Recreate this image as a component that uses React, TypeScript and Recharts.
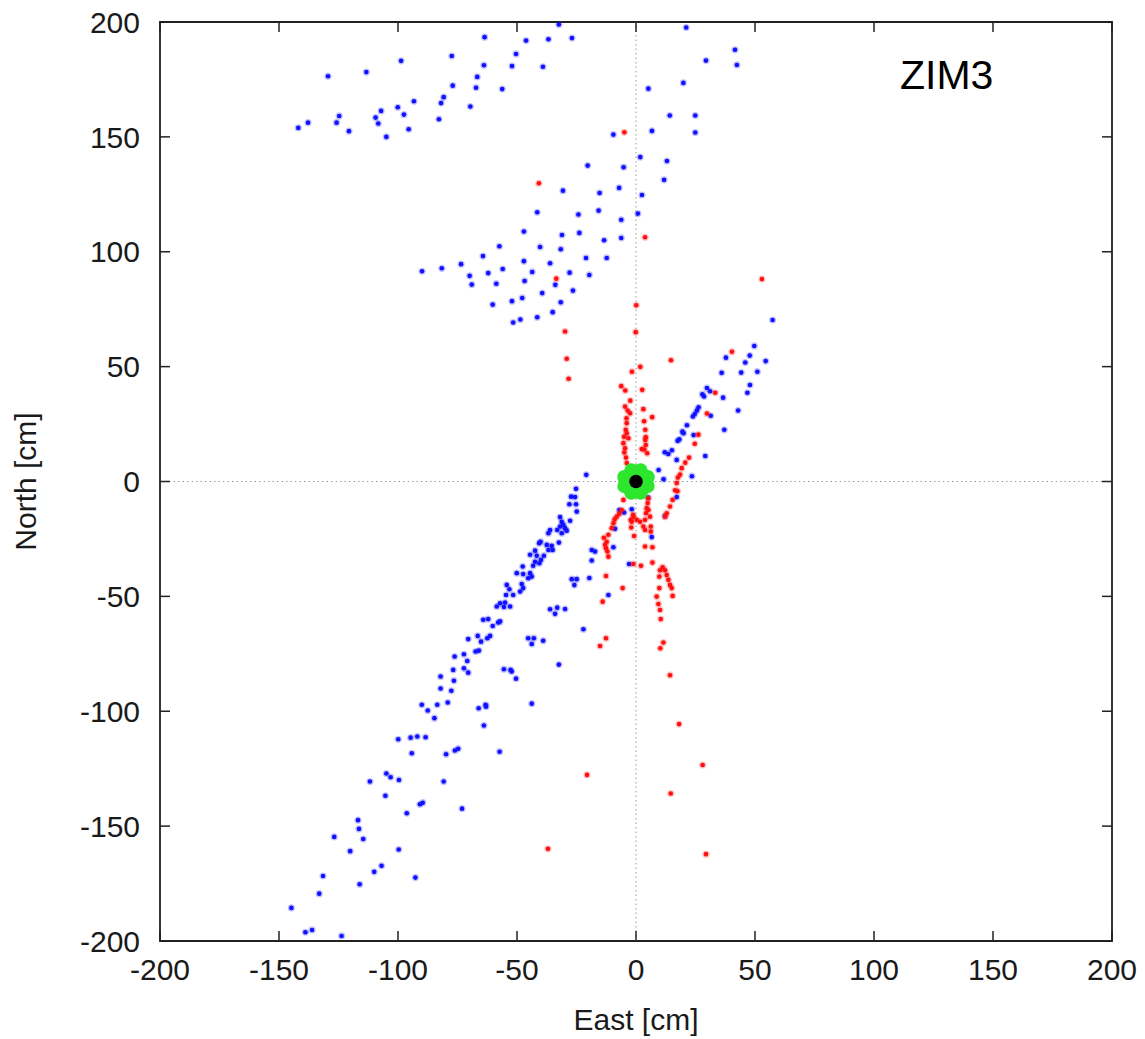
import React from 'react';
import { ScatterChart, Scatter, XAxis, YAxis, ReferenceLine, ReferenceArea } from 'recharts';

const xTicks = [-200, -150, -100, -50, 0, 50, 100, 150, 200];
const yTicks = [-200, -150, -100, -50, 0, 50, 100, 150, 200];

const bluePoints: [number, number][] = [
  [-32.4,198.9],[21.1,197.6],[-63.6,193.4],[-46.2,191.9],[-36.8,192.5],[-26.9,193.0],[29.4,183.2],[-77.4,185.2],[-50.4,186.1],[-98.7,183.1],[-129.4,176.4],[-113.3,178.2],[-63.9,181.2],[-52.1,180.8],[-39.1,180.5],[-66.7,176.1],[-77.0,172.3],[-67.2,171.4],[-56.2,170.8],[5.2,171.0],[19.9,173.5],[-80.8,167.3],[-81.9,164.7],[-93.3,165.5],[-69.6,163.2],[-100.1,162.9],[-107.1,161.3],[-124.7,159.1],[-97.5,159.7],[-109.4,158.4],[14.2,159.3],[24.9,159.3],[-137.8,156.2],[-125.8,156.2],[-108.3,155.8],[-141.9,153.9],[-120.6,152.5],[-95.5,153.3],[-82.8,157.7],[-104.9,150.0],[-9.5,151.0],[6.7,152.6],[24.9,151.9],[41.6,187.9],[42.4,181.3],
  [1.8,141.2],[13.0,139.5],[-20.3,137.5],[-5.2,136.8],[11.8,131.3],[-30.7,126.6],[-15.3,125.6],[-7.1,127.8],[2.5,124.7],[-41.5,117.2],[-24.2,116.2],[-15.7,117.9],[0.8,116.6],[-6.2,113.9],[-47.1,108.8],[-31.1,107.3],[-23.8,108.2],[-6.2,106.0],[-13.4,105.0],[-57.4,102.4],[-40.3,102.1],[-31.6,101.1],[-64.3,98.1],[-21.0,97.3],[-12.3,97.3],[-73.5,94.6],[-47.1,95.9],[-36.1,95.0],[-89.9,91.5],[-81.6,92.8],[-69.9,89.5],[-62.1,90.7],[-56.0,92.5],[-43.6,91.2],[-27.9,90.9],[-19.6,89.9],[-69.0,85.7],[-58.7,86.1],[-46.8,87.3],[-33.9,85.6],[-39.4,82.0],[-26.5,83.1],[-60.2,77.0],[-52.1,78.5],[-47.8,79.9],[-31.6,78.0],[-51.6,69.2],[-48.6,70.5],[-41.5,71.5],[-35.0,73.7],
  [57.4,70.3],[49.7,59.0],[37.8,53.9],[47.8,54.8],[45.9,51.8],[54.5,52.4],[36.0,47.3],[44.2,47.4],[51.0,47.8],[47.9,42.0],[46.8,38.6],[29.8,40.7],[31.1,39.3],[27.9,38.0],[28.6,37.0],[36.6,36.5],[42.9,30.9],[26.3,32.3],[25.6,30.9],[24.7,29.4],[23.9,28.3],[31.4,28.6],[21.4,24.5],[19.5,21.7],[20.0,21.0],[18.2,18.4],[17.5,17.7],[24.2,20.2],[37.1,22.5],[15.1,13.6],[12.1,12.7],[13.6,12.0],[17.1,9.4],[29.1,11.1],[9.5,5.0],[23.5,2.3],[11.6,1.0],[6.4,2.1],[5.0,-7.0],[17.1,-6.8],[12.2,-15.0],[6.6,-24.2],
  [-20.9,2.9],[-25.2,-3.2],[-27.3,-6.6],[-25.6,-6.8],[-28.0,-9.9],[-25.2,-9.9],[-24.9,-13.1],[-31.9,-15.5],[-31.2,-17.5],[-27.7,-17.1],[-30.5,-18.9],[-31.9,-19.6],[-29.8,-20.3],[-33.1,-21.1],[-29.1,-21.4],[-31.2,-22.5],[-36.1,-21.1],[-36.8,-22.5],[-32.4,-26.6],[-40.1,-26.2],[-40.7,-26.9],
  [-37.5,-27.6],[-35.4,-28.0],[-36.8,-29.8],[-35.0,-29.8],[-42.4,-30.1],[-44.5,-31.9],[-41.7,-32.3],[-38.7,-32.3],[-39.9,-34.1],[-42.4,-34.9],[-40.6,-35.6],[-43.2,-36.7],[-47.6,-37.0],[-44.5,-39.9],[-47.4,-40.3],[-43.8,-41.4],[-50.1,-39.9],[-45.3,-42.1],[-48.0,-44.6],[-54.3,-45.0],[-47.4,-46.4],[-53.2,-46.9],[-48.7,-47.9],[-51.6,-49.4],[-54.6,-49.4],[-55.0,-52.7],[-57.1,-53.0],[-52.9,-54.4],[-58.5,-54.4],[-55.5,-54.6],
  [-18.6,-29.8],[-17.2,-30.5],[-18.6,-34.4],[-27.0,-42.5],[-24.9,-42.5],[-25.9,-45.1],[-19.6,-42.0],[-11.6,-49.4],[-2.9,-35.9],[-36.1,-55.6],[-33.1,-54.9],[-34.0,-57.6],[-29.8,-55.5],[-22.1,-64.3],[-5.0,-13.5],[-7.0,-12.4],[-8.8,-20.6],[-9.5,-28.6],[-1.8,-12.1],
  [-64.2,-60.2],[-62.1,-59.9],[-60.2,-62.9],[-57.9,-61.4],[-57.1,-60.9],[-66.5,-67.2],[-65.1,-69.7],[-62.5,-68.2],[-61.3,-67.2],[-70.5,-68.6],[-45.3,-68.2],[-42.9,-68.2],[-43.8,-70.7],[-39.0,-69.3],
  [-72.3,-75.2],[-76.2,-76.2],[-70.9,-78.1],[-67.4,-74.0],[-66.0,-73.6],[-32.4,-79.7],[-76.8,-82.0],[-72.3,-81.3],[-70.5,-83.2],[-76.5,-86.7],[-82.1,-84.9],[-82.1,-90.1],[-77.6,-91.1],[-55.5,-81.7],[-52.7,-82.0],[-52.2,-82.7],[-50.4,-85.8],[-90.0,-97.2],[-87.5,-99.7],[-83.5,-97.2],[-79.1,-96.2],[-84.7,-103.0],[-66.1,-98.7],[-63.2,-97.2],[-63.0,-98.0],[-43.8,-96.7],[-63.9,-106.2],[-99.9,-112.2],[-94.7,-111.5],[-91.9,-111.0],[-88.4,-111.3],[-94.2,-118.3],[-79.8,-118.7],[-76.1,-117.1],[-74.7,-116.3],[-57.3,-117.6],
  [-111.8,-130.6],[-104.9,-127.1],[-103.1,-128.7],[-99.6,-129.9],[-80.8,-130.6],[-105.3,-136.8],[-90.8,-140.5],[-89.6,-139.8],[-73.1,-142.4],[-96.3,-144.4],[-116.8,-147.4],[-116.4,-151.2],[-114.6,-155.6],[-126.8,-154.7],[-120.1,-160.9],[-99.7,-160.2],[-110.0,-169.9],[-106.9,-167.3],[-131.5,-171.7],[-92.7,-172.4],[-116.1,-175.3],[-133.1,-179.4],[-144.8,-185.6],[-138.9,-196.2],[-136.1,-195.2],[-123.7,-197.8]
];

const redPoints: [number, number][] = [
  [-4.9,152.0],[-40.8,129.8],[3.8,106.3],[-33.5,88.3],[0.1,76.7],[-0.1,65.0],[-29.8,65.3],[52.9,88.1],
  [-29.1,53.4],[-28.3,44.7],[14.7,52.8],[40.3,56.5],[33.3,38.6],[29.8,29.6],[26.2,20.4],[24.7,16.4],
  [22.3,10.4],[20.7,8.2],[19.2,5.8],[18.5,3.0],[17.6,1.7],[17.1,-0.7],[16.4,-3.8],[17.4,-4.2],[15.4,-8.0],[14.3,-10.9],[12.9,-13.8],[12.2,-15.3],
  [-1.7,47.8],[1.8,49.9],[-6.2,41.5],[-4.5,39.6],[2.6,39.9],[-2.4,35.2],[-4.6,32.6],[-3.5,30.9],[-2.5,29.7],[3.1,31.5],[6.8,28.0],[3.4,26.2],[-3.9,25.4],[-4.3,22.5],[-3.9,21.0],[-3.2,18.8],[-5.3,16.7],[-4.6,14.5],[-4.9,12.6],[-4.2,10.4],[-3.9,8.0],[3.9,22.5],[4.1,19.3],[3.9,18.1],[4.1,15.9],[4.7,12.3],[3.5,13.9],[2.4,14.1],[-5.0,19.5],[-4.0,27.5],
  [5.2,-7.3],[4.9,-9.4],[4.5,-11.6],[4.2,-13.8],[3.8,-16.7],[5.2,-12.4],[5.9,-15.3],[6.2,-19.6],[6.2,-21.8],
  [-1.1,-15.3],[0.3,-16.7],[1.7,-17.5],[3.1,-19.6],[3.8,-21.1],[-1.8,-17.5],[-0.8,-23.7],[-1.2,-14.5],[-2.2,-16.7],[-2.0,-20.0],
  [-5.3,-8.0],[-6.0,-12.4],[-8.1,-15.3],[-9.5,-18.2],[-10.2,-20.3],[-11.6,-23.2],[-12.3,-26.2],[-12.6,-29.0],[-11.6,-32.7],[-13.5,-24.5],[-13.0,-27.5],[-12.0,-30.5],[-9.0,-16.5],[-7.0,-14.0],
  [-12.6,-41.1],[-5.6,-46.4],[-14.0,-52.3],[-12.6,-68.2],[-15.1,-71.6],[3.8,-28.3],[6.9,-28.6],[2.1,-36.7],[6.9,-35.3],[-1.1,-35.9],
  [10.1,-38.6],[11.2,-37.3],[12.2,-38.6],[12.9,-40.7],[13.6,-42.8],[14.3,-45.0],[15.0,-46.4],[15.4,-49.8],[9.8,-41.4],[9.8,-46.4],[8.7,-50.1],[9.4,-53.3],[10.1,-55.9],[10.4,-59.9],
  [11.5,-70.1],[10.2,-72.6],[14.3,-84.3],[18.1,-105.6],[28.0,-123.4],[14.6,-135.8],[29.4,-162.2],[-37.0,-159.9],[-20.6,-127.7]
];

const greenPoints: [number, number][] = [
  [0,0],[3,3],[-3,3],[3,-3],[-3,-3],[4.5,0],[-4.5,0],[0,4.5],[0,-4.5],
  [2,5],[-2,5],[2,-5],[-2,-5],[5,2],[-5,2],[5,-2],[-5,-2]
];

const centerPoint: [number, number][] = [[0, 0]];

const toData = (arr: [number, number][]) => arr.map(([x, y]) => ({ x, y }));

const FONT = '"Liberation Sans", Arial, Helvetica, sans-serif';
const PLOT_TOP = 22;
const PLOT_BOTTOM = 941;
const PLOT_LEFT = 160;
const PLOT_RIGHT = 1112;
const TICK_LEN = 10;

const XTick = (props: any) => {
  const { x, y, payload } = props;
  return (
    <g>
      <text x={x} y={y} dy="0.71em" textAnchor="middle" fontSize={30} fill="#1a1a1a" fontFamily={FONT}>
        {payload.value}
      </text>
      <line x1={x} x2={x} y1={PLOT_BOTTOM} y2={PLOT_BOTTOM - TICK_LEN} stroke="#222" strokeWidth={1.5} />
      <line x1={x} x2={x} y1={PLOT_TOP} y2={PLOT_TOP + TICK_LEN} stroke="#222" strokeWidth={1.5} />
    </g>
  );
};

const YTick = (props: any) => {
  const { x, y, payload } = props;
  return (
    <g>
      <text x={x} y={y} dy="0.355em" textAnchor="end" fontSize={30} fill="#1a1a1a" fontFamily={FONT}>
        {payload.value}
      </text>
      <line x1={PLOT_LEFT} x2={PLOT_LEFT + TICK_LEN} y1={y} y2={y} stroke="#222" strokeWidth={1.5} />
      <line x1={PLOT_RIGHT} x2={PLOT_RIGHT - TICK_LEN} y1={y} y2={y} stroke="#222" strokeWidth={1.5} />
    </g>
  );
};

const dotShape = (color: string, r: number) => (props: any) => {
  const { cx, cy } = props;
  if (cx == null || cy == null) return <g />;
  return (
    <g>
      <circle cx={cx} cy={cy} r={r + 1.3} fill={color} fillOpacity={0.25} />
      <circle cx={cx} cy={cy} r={r} fill={color} />
    </g>
  );
};

const solidShape = (color: string, r: number) => (props: any) => {
  const { cx, cy } = props;
  if (cx == null || cy == null) return <g />;
  return <circle cx={cx} cy={cy} r={r} fill={color} />;
};

export default function App() {
  return (
    <div style={{ position: 'absolute', left: 0, top: 0, width: 1145, height: 1039, background: '#fff' }}>
      <ScatterChart
        width={1145}
        height={1039}
        margin={{ top: PLOT_TOP, right: 1145 - PLOT_RIGHT, bottom: 0, left: 0 }}
      >
        <XAxis
          type="number"
          dataKey="x"
          domain={[-200, 200]}
          ticks={xTicks}
          allowDataOverflow
          height={1039 - PLOT_BOTTOM}
          tickLine={false}
          axisLine={false}
          tickSize={0}
          tickMargin={18}
          tick={<XTick />}
          interval={0}
          label={{ value: 'East [cm]', position: 'insideBottom', offset: 9, fontSize: 30, fill: '#1a1a1a', fontFamily: FONT }}
        />
        <YAxis
          type="number"
          dataKey="y"
          domain={[-200, 200]}
          ticks={yTicks}
          allowDataOverflow
          width={PLOT_LEFT}
          tickLine={false}
          axisLine={false}
          tickSize={0}
          tickMargin={20}
          tick={<YTick />}
          interval={0}
          label={{ value: 'North [cm]', angle: -90, position: 'insideLeft', offset: 25, fontSize: 30, fill: '#1a1a1a', fontFamily: FONT, style: { textAnchor: 'middle' } }}
        />
        <ReferenceLine x={0} stroke="#9a9a9a" strokeDasharray="1.5 3" strokeWidth={1} />
        <ReferenceLine y={0} stroke="#9a9a9a" strokeDasharray="1.5 3" strokeWidth={1} />
        <Scatter data={toData(bluePoints)} isAnimationActive={false} shape={dotShape('#1010ff', 2.3)} />
        <Scatter data={toData(redPoints)} isAnimationActive={false} shape={dotShape('#ff1010', 2.3)} />
        <Scatter data={toData(greenPoints)} isAnimationActive={false} shape={solidShape('#2ee62e', 6.8)} />
        <Scatter data={toData(centerPoint)} isAnimationActive={false} shape={solidShape('#000000', 6.8)} />
        <ReferenceArea x1={-200} x2={200} y1={-200} y2={200} fill="none" fillOpacity={0} stroke="#222" strokeWidth={1.8} />
      </ScatterChart>
      <div
        style={{
          position: 'absolute',
          left: 900,
          top: 55,
          fontFamily: FONT,
          fontSize: 41,
          lineHeight: '41px',
          color: '#000',
          whiteSpace: 'nowrap',
        }}
      >
        ZIM3
      </div>
    </div>
  );
}
